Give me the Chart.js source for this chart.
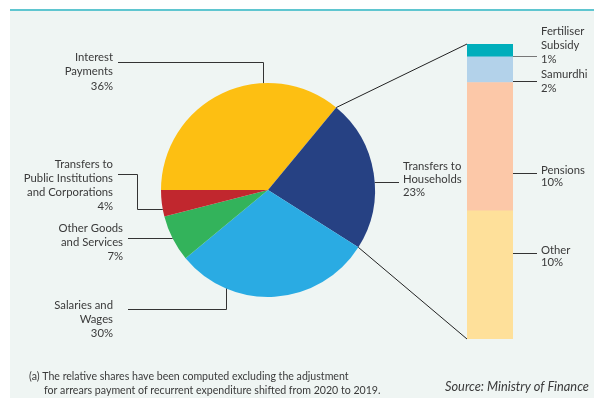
<!DOCTYPE html>
<html>
<head>
    <title>Recurrent Expenditure</title>
    <script src="https://cdn.jsdelivr.net/npm/chart.js"></script>
    <style>
        body { margin: 0; background: #ffffff; }
        #panel { position: absolute; left: 10px; top: 9px; width: 584px; height: 387px; background: #eff5f3; border-top: 2px solid #5fc6d0; }
        #pieChart { position: absolute; left: 0; top: 0; }
        #barChart { position: absolute; left: 467px; top: 44px; }
    </style>
</head>
<body>
    <div id="panel"></div>
    <canvas id="pieChart" width="594" height="398"></canvas>
    <canvas id="barChart" width="46" height="295"></canvas>
    <script>
        // main pie: shares of recurrent expenditure (%)
        var pieLabels = [
            ['Interest', 'Payments'],
            ['Transfers to', 'Households'],
            ['Salaries and', 'Wages'],
            ['Other Goods', 'and Services'],
            ['Transfers to', 'Public Institutions', 'and Corporations']
        ];
        var pieValues = [36, 23, 30, 7, 4];
        var pieColors = ['#fdbf12', '#264183', '#2aabe3', '#33b35b', '#c1272e'];

        // breakdown of transfers to households, bottom to top
        var transferLabels = [['Other'], ['Pensions'], ['Samurdhi'], ['Fertiliser', 'Subsidy']];
        var transferValues = [10, 10, 2, 1];
        var transferColors = ['#fee09a', '#fcc8a8', '#b3d2ea', '#00aebb'];

        var FONT = '11.3px Lato, "DejaVu Sans", sans-serif';
        var TEXT = '#3a3a3a';
        var LINE = '#333333';

        var transferTotal = transferValues.reduce(function(a, b) { return a + b; }, 0);

        var barChart = new Chart(document.getElementById('barChart'), {
            type: 'bar',
            data: {
                labels: ['Transfers to Households'],
                datasets: transferLabels.map(function(l, i) {
                    return {
                        label: l.join(' '),
                        data: [transferValues[i]],
                        backgroundColor: transferColors[i],
                        borderWidth: 0,
                        barPercentage: 1,
                        categoryPercentage: 1
                    };
                })
            },
            options: {
                responsive: false,
                animation: false,
                layout: { padding: 0 },
                plugins: { legend: { display: false }, tooltip: { enabled: false } },
                scales: {
                    x: { stacked: true, display: false },
                    y: { stacked: true, display: false, min: 0, max: transferTotal }
                }
            }
        });

        // label text blocks: [x, align, line y positions]
        var pieLabelPos = [
            [113, 'right', [57, 71, 86]],
            [403, 'left', [166, 179, 192]],
            [113, 'right', [305, 319, 333]],
            [123, 'right', [228, 242, 256]],
            [113, 'right', [164, 178, 192.5, 206.5]]
        ];
        var barLabelPos = [
            [[250, 262.5], 253],
            [[170.5, 182.5], 173],
            [[74, 88.5], 81],
            [[31.5, 45.5, 59.5], 56]
        ];

        function drawLines(ctx, label, x, align, ys) {
            ctx.textAlign = align;
            label.forEach(function(t, k) { ctx.fillText(t, x, ys[k]); });
        }

        function polyline(ctx, pts, color) {
            ctx.beginPath();
            ctx.strokeStyle = color || LINE;
            ctx.moveTo(pts[0][0], pts[0][1]);
            for (var i = 1; i < pts.length; i++) ctx.lineTo(pts[i][0], pts[i][1]);
            ctx.stroke();
        }

        var calloutPlugin = {
            id: 'callouts',
            afterDraw: function(chart) {
                var ctx = chart.ctx;
                var arcs = chart.getDatasetMeta(0).data;
                var cx = arcs[0].x, cy = arcs[0].y, r = arcs[0].outerRadius;
                function yAt(x, sign) { return cy + sign * Math.sqrt(r * r - (x - cx) * (x - cx)); }
                function xAt(y, sign) { return cx + sign * Math.sqrt(r * r - (y - cy) * (y - cy)); }

                ctx.save();
                ctx.lineWidth = 1;

                // leader lines for the pie labels
                polyline(ctx, [[118, 62.5], [263.5, 62.5], [263.5, yAt(263.5, -1)]]);
                polyline(ctx, [[xAt(182.5, 1), 182.5], [399, 182.5]]);
                polyline(ctx, [[128, 309.5], [226.5, 309.5], [226.5, yAt(226.5, 1)]]);
                polyline(ctx, [[128, 238.5], [xAt(238.5, -1), 238.5]]);
                polyline(ctx, [[118, 174.5], [137.5, 174.5], [137.5, 209.5], [xAt(209.5, -1), 209.5]]);

                // connectors from the households slice to the breakdown bar
                var canvasBar = barChart.canvas;
                var ox = canvasBar.offsetLeft, oy = canvasBar.offsetTop;
                var topBar = barChart.getDatasetMeta(transferValues.length - 1).data[0];
                var bottomBar = barChart.getDatasetMeta(0).data[0];
                var left = ox + topBar.x - topBar.width / 2;
                var right = ox + topBar.x + topBar.width / 2;
                var hh = arcs[1];
                polyline(ctx, [[cx + r * Math.cos(hh.startAngle), cy + r * Math.sin(hh.startAngle)], [left, oy + topBar.y]], '#222');
                polyline(ctx, [[cx + r * Math.cos(hh.endAngle), cy + r * Math.sin(hh.endAngle)], [left, oy + bottomBar.base]], '#222');

                barLabelPos.forEach(function(p, i) {
                    polyline(ctx, [[right, p[1] + 0.5], [537, p[1] + 0.5]], i === 3 ? '#777' : LINE);
                });

                // label text
                ctx.fillStyle = TEXT;
                ctx.font = FONT;
                ctx.textBaseline = 'middle';
                pieLabels.forEach(function(l, i) {
                    var p = pieLabelPos[i];
                    drawLines(ctx, l.concat([pieValues[i] + '%']), p[0], p[1], p[2]);
                });
                transferLabels.forEach(function(l, i) {
                    drawLines(ctx, l.concat([transferValues[i] + '%']), 541, 'left', barLabelPos[i][0]);
                });

                ctx.font = '10.6px Lato, "DejaVu Sans", sans-serif';
                ctx.textAlign = 'left';
                ctx.fillText('(a) The relative shares have been computed excluding the adjustment', 29, 377);
                ctx.fillText('for arrears payment of recurrent expenditure shifted from 2020 to 2019.', 44, 391);
                ctx.font = 'italic 12.8px Lato, "DejaVu Sans", sans-serif';
                ctx.fillText('Source: Ministry of Finance', 445, 387);
                ctx.restore();
            }
        };

        var pieChart = new Chart(document.getElementById('pieChart'), {
            type: 'pie',
            data: {
                labels: pieLabels.map(function(l) { return l.join(' '); }),
                datasets: [{
                    data: pieValues,
                    backgroundColor: pieColors,
                    borderWidth: 0
                }]
            },
            options: {
                responsive: false,
                animation: false,
                rotation: -90,
                layout: { padding: { left: 161, right: 219, top: 83, bottom: 101 } },
                plugins: { legend: { display: false }, tooltip: { enabled: false } }
            },
            plugins: [calloutPlugin]
        });
    </script>
</body>
</html>
